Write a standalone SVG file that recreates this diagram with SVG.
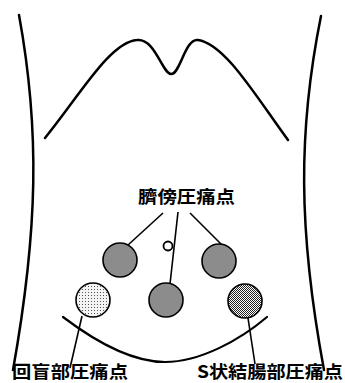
<svg xmlns="http://www.w3.org/2000/svg" width="345" height="383" viewBox="0 0 345 383">
  <defs>
    <pattern id="dots" width="3" height="3" patternUnits="userSpaceOnUse">
      <rect width="3" height="3" fill="#f4f4f4"/>
      <rect x="1" y="1" width="1" height="1" fill="#555"/>
    </pattern>
    <pattern id="checker" width="2" height="2" patternUnits="userSpaceOnUse">
      <rect width="2" height="2" fill="#fff"/>
      <rect width="1" height="1" fill="#222"/>
      <rect x="1" y="1" width="1" height="1" fill="#222"/>
    </pattern>
  </defs>
  <style>
    .body { fill: none; stroke: #000; stroke-width: 2.5; stroke-linecap: round; }
    .lead { fill: none; stroke: #000; stroke-width: 1.6; }
    .pt { stroke: #000; stroke-width: 1.6; }
    .gray { fill: #8c8c8c; }
    .label { font-family: "Noto Sans CJK JP", "Liberation Sans", sans-serif; font-weight: bold; font-size: 17.5px; fill: #000; }
  </style>

  <!-- torso outline -->
  <g id="torso">
    <path class="body" d="M19,15 C40,130 38,230 13,370"/>
    <path class="body" d="M321,16 C298,130 298,230 324,370"/>
    <path class="body" d="M45,138 C80,95 110,42 137,40 C155,38 162,73 171,74 C180,75 185,38 198,40 C225,44 255,95 288,140"/>
    <path class="body" style="stroke-width:2.2" d="M63,317 C100,345 135,362 165,362 C200,362 240,340 267,317"/>
  </g>

  <!-- leader lines -->
  <g id="connectors">
    <line class="lead" x1="163" y1="213" x2="128" y2="245"/>
    <line class="lead" x1="178" y1="212" x2="170" y2="284"/>
    <line class="lead" x1="190" y1="213" x2="222" y2="245"/>
    <line class="lead" x1="82" y1="316" x2="70" y2="368"/>
    <line class="lead" x1="248" y1="318" x2="255" y2="364"/>
  </g>

  <!-- navel -->
  <g id="navel">
    <circle cx="168" cy="246" r="4.5" fill="#fff" stroke="#000" stroke-width="1.8"/>
  </g>

  <!-- tender points -->
  <g id="para-umbilical-left"><circle class="pt gray" cx="120" cy="260" r="17"/></g>
  <g id="para-umbilical-right"><circle class="pt gray" cx="219" cy="261" r="17"/></g>
  <g id="para-umbilical-lower"><circle class="pt gray" cx="166" cy="300" r="17"/></g>
  <g id="ileocecal"><circle class="pt" fill="url(#dots)" cx="93" cy="300" r="17"/></g>
  <g id="sigmoid"><circle class="pt" fill="url(#checker)" cx="245" cy="301" r="17"/></g>

  <!-- labels -->
  <g id="label-para-umbilical">
    <text class="label" x="138" y="203" textLength="97" lengthAdjust="spacingAndGlyphs">臍傍圧痛点</text>
  </g>
  <g id="label-ileocecal">
    <text class="label" x="12" y="378" textLength="116" lengthAdjust="spacingAndGlyphs">回盲部圧痛点</text>
  </g>
  <g id="label-sigmoid">
    <text class="label" x="197" y="378" textLength="146" lengthAdjust="spacingAndGlyphs">S状結腸部圧痛点</text>
  </g>
</svg>
